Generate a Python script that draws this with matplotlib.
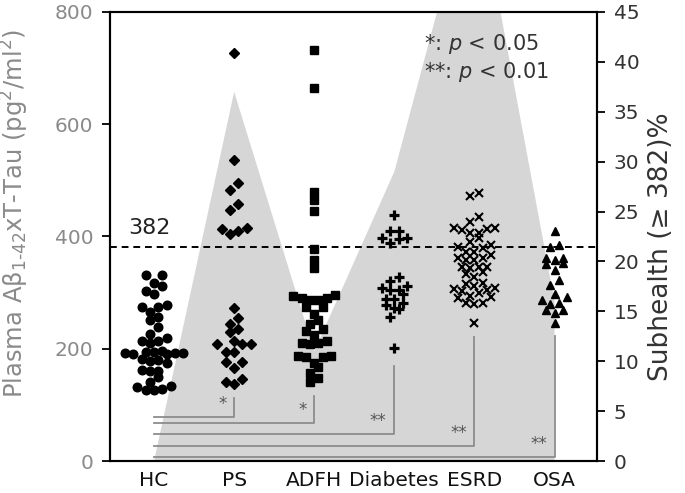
import numpy as np
import matplotlib
matplotlib.use("Agg")
import matplotlib.pyplot as plt

groups = ["HC", "PS", "ADFH", "Diabetes", "ESRD", "OSA"]

hc = [331, 331, 317, 311, 302, 297, 278, 275, 275, 266, 257, 251, 239, 227,
      219, 214, 213, 210, 196, 195, 194, 193, 192, 192, 191, 190, 181, 180,
      179, 174, 162, 161, 160, 150, 141, 133, 131, 129, 127, 126]
ps = [727, 537, 496, 483, 457, 447, 416, 413, 409, 404, 272, 254, 244, 236,
      229, 214, 208, 208, 208, 195, 194, 177, 176, 165, 146, 140, 138]
adfh = [733, 665, 480, 465, 446, 377, 359, 343, 296, 294, 290, 290, 287, 287,
        275, 274, 262, 251, 244, 236, 232, 224, 213, 211, 210, 208, 187, 187,
        186, 186, 174, 167, 157, 148, 141]
diabetes = [438, 409, 409, 397, 397, 395, 388, 328, 321, 312, 308, 305, 305,
            297, 288, 288, 281, 278, 272, 270, 256, 201]
esrd = [478, 472, 434, 426, 416, 416, 413, 412, 406, 406, 397, 391, 385, 381,
        379, 373, 373, 367, 361, 361, 358, 358, 346, 346, 345, 343, 337, 334,
        328, 318, 315, 311, 308, 306, 305, 303, 299, 294, 293, 290, 281, 281,
        279, 246]
osa = [409, 385, 381, 361, 361, 359, 352, 351, 341, 322, 314, 298, 293, 286,
       281, 279, 269, 269, 263, 245]

# subhealth percentage (>= 382) per group, right axis
subhealth = [0, 37, 11, 29, 59, 16]

cutoff = 382

# significance brackets vs HC
bracket_low = [78, 68, 48, 27, 7]
bracket_top = [112, 116, 169, 221, 223]
bracket_mark = ["*", "*", "**", "**", "**"]

all_values = [hc, ps, adfh, diabetes, esrd, osa]
markers = [
    dict(marker="o", ms=6.2),
    dict(marker="D", ms=4.8),
    dict(marker="s", ms=5.6),
    dict(marker="+", ms=7.5, mew=2.3),
    dict(marker="x", ms=6.3, mew=1.5),
    dict(marker="^", ms=6.4),
]


def row_offsets(vals, h=15, step=0.104):
    """prism-like scatter: values closer than h share a row,
    lowest in the middle, higher ones pushed outwards"""
    vals = np.asarray(vals, float)
    offs = np.zeros(len(vals))
    rows, cur = [], []
    for i in np.argsort(vals, kind="stable"):
        if cur and vals[i] >= vals[cur[0]] + h:
            rows.append(cur)
            cur = []
        cur.append(i)
    rows.append(cur)
    for row in rows:
        n = len(row)
        if n % 2:
            slots = [0] + [s * k for k in range(1, n) for s in (-1, 1)]
        else:
            slots = [s * (k - 0.5) for k in range(1, n + 1) for s in (-1, 1)]
        for i, sl in zip(row, slots):
            offs[i] = sl * step
    return offs


fig = plt.figure(figsize=(6.85, 4.93), dpi=100)
ax = fig.add_axes([0.1606, 0.0649, 0.7109, 0.9108])
ax2 = ax.twinx()

xpos = np.arange(1, len(groups) + 1)

# grey subhealth area on the right axis, behind the points
ax2.fill_between(xpos, subhealth, 0, color="#d6d6d6", lw=0)
ax2.set_ylim(0, 45)
ax2.set_yticks(range(0, 46, 5))
ax.set_zorder(ax2.get_zorder() + 1)
ax.patch.set_visible(False)

for k, (vals, mk) in enumerate(zip(all_values, markers)):
    ax.plot(xpos[k] + row_offsets(vals), vals, ls="none", color="black",
            mec="black", **mk)

ax.axhline(cutoff, color="black", lw=1.4, ls=(0, (3.5, 2.5)))
ax.text(0.68, 404, str(cutoff), fontsize=16, color="#222222")

for k, (lo, top, lab) in enumerate(zip(bracket_low, bracket_top, bracket_mark)):
    gx = xpos[k + 1]
    ax.plot([1.0, gx, gx], [lo, lo, top], color="#8c8c8c", lw=1.3)
    ax.text(gx - (0.14 if lab == "*" else 0.2), lo + 7, lab, fontsize=12,
            color="#555555", ha="center", va="bottom")

ax.text(4.37, 732, "*: $\\mathit{p}$ < 0.05", fontsize=15, color="#333333")
ax.text(4.37, 682, "**: $\\mathit{p}$ < 0.01", fontsize=15, color="#333333")

ax.set_xlim(0.45, 6.53)
ax.set_ylim(0, 800)
ax.set_yticks([0, 200, 400, 600, 800])
ax.set_xticks(xpos)
ax.set_xticklabels(groups)

ax.tick_params(axis="x", length=0, labelsize=14.5, pad=7, labelcolor="#111111")
ax.tick_params(axis="y", direction="out", length=6, width=1.3,
               labelsize=14.5, labelcolor="#8a8a8a", pad=6)
ax2.tick_params(axis="y", direction="out", length=6, width=1.3,
                labelsize=14.5, labelcolor="#333333", pad=6)

for sp in list(ax.spines.values()) + list(ax2.spines.values()):
    sp.set_linewidth(1.5)
    sp.set_color("black")

ax.set_ylabel("Plasma A\u03b2$_{1\\text{-}42}$xT-Tau (pg$^2$/ml$^2$)",
              fontsize=17.5, color="#8a8a8a")
ax.yaxis.set_label_coords(-0.162, 0.552)
ax2.set_ylabel("Subhealth (\u2265 382)%", fontsize=19, color="#333333")
ax2.yaxis.set_label_coords(1.105, 0.477)

fig.savefig("out.png", dpi=100)
